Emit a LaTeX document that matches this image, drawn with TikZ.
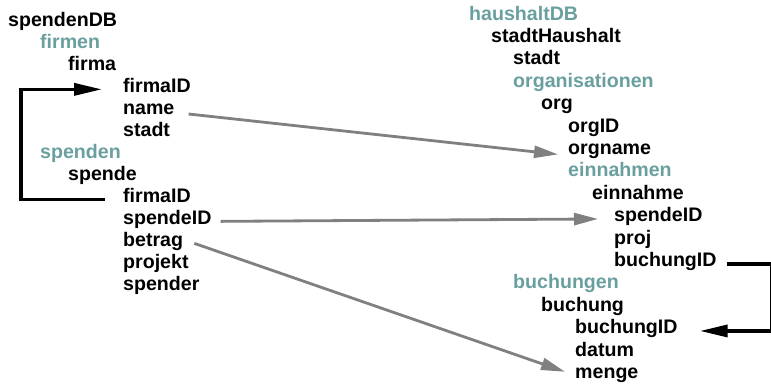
\documentclass[tikz,border=0pt]{standalone}
\usepackage{fontspec}
\setmainfont{Liberation Sans}
\usepackage{xcolor}
\usetikzlibrary{arrows.meta, positioning, calc}
\definecolor{grpteal}{RGB}{106, 159, 159}
\definecolor{refgray}{RGB}{128, 128, 128}

\begin{document}
\begin{tikzpicture}[
    x=1pt, y=-1pt,
    fld/.style={anchor=base west, inner sep=0pt, font=\fontsize{19.6}{22}\selectfont\bfseries},
    grp/.style={fld, text=grpteal},
    fk/.style={-{Triangle[length=28pt, width=12pt]}, line width=3.5pt},
    ref/.style={-{Triangle[length=24pt, width=12pt]}, line width=2.8pt, draw=refgray, fill=refgray}
]
\useasboundingbox (0,0) rectangle (771,383);

% spendenDB tree
\node[fld] (sdb) at (8,26) {spendenDB};
\node[grp] (firmen) at (40,48) {firmen};
\node[fld] (firma) at (68,70) {firma};
\node[fld] (fid) at (123,92) {firmaID};
\node[fld] (fname) at (123,114) {name};
\node[fld] (fstadt) at (123,136) {stadt};
\node[grp] (spenden) at (40,158) {spenden};
\node[fld] (spende) at (68,180) {spende};
\node[fld] (sfid) at (123,202) {firmaID};
\node[fld] (ssid) at (123,224) {spendeID};
\node[fld] (sbetrag) at (123,246) {betrag};
\node[fld] (sprojekt) at (123,268) {projekt};
\node[fld] (sspender) at (123,290) {spender};

% haushaltDB tree
\node[grp] (hdb) at (469,20) {haushaltDB};
\node[fld] (stadthh) at (491,42.4) {stadtHaushalt};
\node[fld] (hstadt) at (513,64.8) {stadt};
\node[grp] (orgs) at (513,87.2) {organisationen};
\node[fld] (org) at (541,109.6) {org};
\node[fld] (orgid) at (568,132) {orgID};
\node[fld] (orgname) at (568,154.4) {orgname};
\node[grp] (einn) at (568,176.8) {einnahmen};
\node[fld] (einnahme) at (592,199.2) {einnahme};
\node[fld] (esid) at (614,221.6) {spendeID};
\node[fld] (eproj) at (614,244) {proj};
\node[fld] (ebid) at (614,266.4) {buchungID};
\node[grp] (buchungen) at (513,288.8) {buchungen};
\node[fld] (buchung) at (541,311.2) {buchung};
\node[fld] (bbid) at (575,333.6) {buchungID};
\node[fld] (bdatum) at (575,356) {datum};
\node[fld] (bmenge) at (575,378.4) {menge};

% bracket corners
\coordinate (ledge) at (21,0);
\coordinate (redge) at (772,0);

% foreign keys inside one DB
\draw[fk] ([xshift=-18pt]sfid.mid west) -- (sfid.mid west -| ledge) |- ([xshift=-21pt]fid.mid west);
\draw[fk] ([xshift=10pt]ebid.mid east) -- (ebid.mid east -| redge) |- ([xshift=22pt]bbid.mid east);

% mappings between the DBs
\draw[ref] ([xshift=14pt]fname.base east) -- ([xshift=-10pt]orgname.base west);
\draw[ref] ([xshift=9pt]ssid.mid east) -- ([xshift=-16pt]esid.mid west);
\draw[ref] ([xshift=11pt]sbetrag.mid east) -- ([xshift=-10pt,yshift=4pt]bmenge.mid west);

\end{tikzpicture}
\end{document}
